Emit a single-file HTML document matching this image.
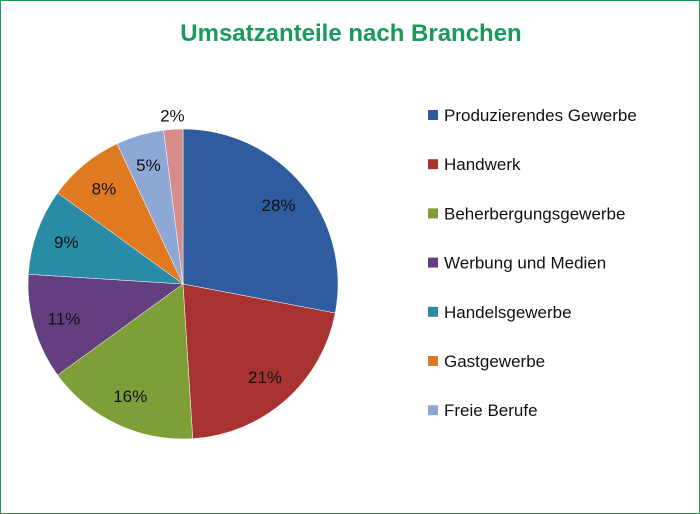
<!DOCTYPE html>
<html><head><meta charset="utf-8"><style>
html,body{margin:0;padding:0;background:#fff}
#c{position:relative;width:698px;height:512px;border:1px solid #1a9a5a;overflow:hidden;font-family:"Liberation Sans",sans-serif}
</style></head><body>
<div id="c">
<svg id="s" width="698" height="512">
<text x="350" y="40" text-anchor="middle" font-size="24" font-weight="bold" fill="#1a9a5a">Umsatzanteile nach Branchen</text>
<g id="slices"></g><g id="labels"></g><g id="legend"></g>
</svg>
</div>
<script>
const categories=["Produzierendes Gewerbe","Handwerk","Beherbergungsgewerbe","Werbung und Medien","Handelsgewerbe","Gastgewerbe","Freie Berufe","Sonstige"];
const values=[28,21,16,11,9,8,5,2];
const colors=["#2e5c9e","#a8322f","#7e9f38","#643f80","#2a8ba6","#df7a20","#8ea8d6","#d68c8a"];
const legendCount=7;
const NS="http://www.w3.org/2000/svg";
const cx=182,cy=283,r=155;
const total=values.reduce((a,b)=>a+b,0);
function pt(a,rr){return [cx+rr*Math.sin(a),cy-rr*Math.cos(a)];}
let acc=0;
const gs=document.getElementById('slices'),gl=document.getElementById('labels'),gL=document.getElementById('legend');
values.forEach((v,i)=>{
 const a0=acc/total*2*Math.PI;acc+=v;const a1=acc/total*2*Math.PI;
 const p0=pt(a0,r),p1=pt(a1,r);
 const p=document.createElementNS(NS,'path');
 p.setAttribute('d',`M${cx},${cy}L${p0[0]},${p0[1]}A${r},${r} 0 ${a1-a0>Math.PI?1:0} 1 ${p1[0]},${p1[1]}Z`);
 p.setAttribute('fill',colors[i]);p.setAttribute('stroke','#fff');p.setAttribute('stroke-width','0.5');
 
 
 gs.appendChild(p);
 const am=(a0+a1)/2;const lp=pt(am,v/total<0.03?r*1.09:r*0.8);
 const t=document.createElementNS(NS,'text');
 t.setAttribute('x',lp[0]);t.setAttribute('y',lp[1]+6);t.setAttribute('text-anchor','middle');
 t.setAttribute('font-size','17');t.setAttribute('fill','#111');t.textContent=v+'%';
 
 
 gl.appendChild(t);
 if(i<legendCount){
  const y=114+i*49.2;
  const g=document.createElementNS(NS,'g');
  
  
  const rc=document.createElementNS(NS,'rect');
  rc.setAttribute('x',427);rc.setAttribute('y',y-5);rc.setAttribute('width',10);rc.setAttribute('height',10);rc.setAttribute('fill',colors[i]);
  const tx=document.createElementNS(NS,'text');
  tx.setAttribute('x',443);tx.setAttribute('y',y+6);tx.setAttribute('font-size','17');tx.setAttribute('fill','#111');tx.textContent=categories[i];
  g.appendChild(rc);g.appendChild(tx);gL.appendChild(g);
 }
});
</script>
</body></html>
